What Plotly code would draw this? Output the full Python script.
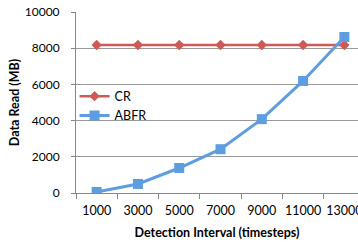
import plotly.graph_objects as go

categories = ["1000", "3000", "5000", "7000", "9000", "11000", "13000"]
cr = [8180, 8180, 8180, 8180, 8180, 8180, 8180]
abfr = [55, 500, 1380, 2420, 4080, 6190, 8620]
yticks = [0, 2000, 4000, 6000, 8000, 10000]
yticklabels = ["0", "2000", "4000", "6000", "8000", "10000"]

font = "Lato, 'Open Sans', sans-serif"
fig = go.Figure()
fig.add_trace(go.Scatter(x=categories, y=cr, name="CR", mode="lines+markers",
                         line=dict(color="#CD5A56", width=2.5),
                         marker=dict(symbol="diamond", size=8, color="#CD5A56")))
fig.add_trace(go.Scatter(x=categories, y=abfr, name="ABFR", mode="lines+markers",
                         line=dict(color="#5E9DE0", width=3),
                         marker=dict(symbol="square", size=10, color="#5E9DE0")))
fig.update_layout(
    width=358, height=242,
    margin=dict(l=76, r=0, t=12, b=49),
    paper_bgcolor="white", plot_bgcolor="white",
    font=dict(family=font, size=12.5, color="#000"),
    showlegend=True,
    legend=dict(x=-0.005, y=0.616, xanchor="left", yanchor="top",
                bgcolor="rgba(0,0,0,0)", font=dict(size=12.5),
                itemwidth=30, tracegroupgap=4),
    xaxis=dict(type="category", range=[-0.5, 6.33], showgrid=False, automargin=False,
               showline=True, linecolor="#888", linewidth=1, tickangle=0,
               tickfont=dict(size=12.5), ticklabelstandoff=6,
               ticks="outside", tickson="boundaries", ticklen=5, tickcolor="#888",
               title=dict(text="<b>Detection Interval (timesteps)</b>", font=dict(size=12.5), standoff=11)),
    yaxis=dict(range=[0, 10000], tickvals=yticks, ticktext=yticklabels, showgrid=True, gridcolor="#999",
               gridwidth=1, showline=True, linecolor="#888", linewidth=1, automargin=False,
               tickfont=dict(size=12), ticklabelstandoff=9,
               ticks="outside", ticklen=4, tickcolor="#888", zeroline=False,
               title=dict(text="<b>Data Read (MB)</b>", font=dict(size=12.5), standoff=2)),
)
fig.write_html("out.html", config={"displayModeBar": False},
               post_script="document.body.style.margin='0';document.body.style.overflow='hidden';")
